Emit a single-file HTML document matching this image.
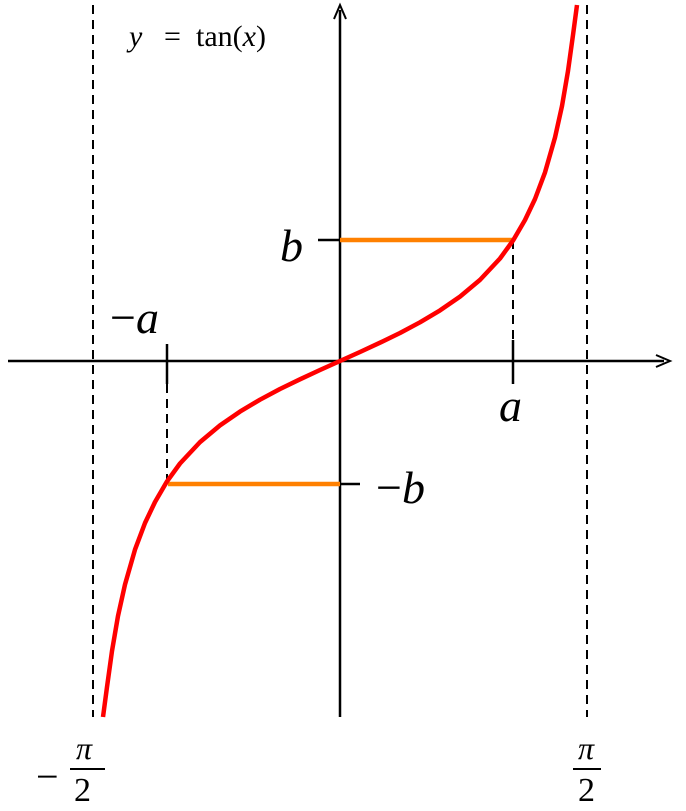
<!DOCTYPE html>
<html><head><style>body{margin:0;background:#fff}svg{display:block}</style></head><body>
<svg width="686" height="811" xmlns="http://www.w3.org/2000/svg" font-family="Liberation Serif, serif">
<g stroke="#000" stroke-width="2" stroke-dasharray="9,6" fill="none">
<line x1="93" y1="5" x2="93" y2="717"/>
<line x1="587" y1="5" x2="587" y2="717"/>
<line x1="513" y1="240" x2="513" y2="340"/>
<line x1="167" y1="384" x2="167" y2="484"/>
</g>
<g stroke="#000" stroke-width="2.5" fill="none">
<line x1="8" y1="361" x2="664" y2="361"/>
<line x1="340" y1="717" x2="340" y2="10"/>
<line x1="318" y1="240" x2="340" y2="240"/>
<line x1="340" y1="484" x2="360" y2="484"/>
<line x1="513" y1="340" x2="513" y2="384"/>
<line x1="167" y1="344" x2="167" y2="384"/>
</g>
<path d="M656,355 L670,361 L656,367" stroke="#000" stroke-width="2" fill="none"/>
<path d="M334,19 L340,5 L346,19" stroke="#000" stroke-width="2" fill="none"/>
<g stroke="#ff8000" stroke-width="4.5">
<line x1="340" y1="240" x2="512" y2="240"/>
<line x1="168" y1="484" x2="340" y2="484"/>
</g>
<polyline fill="none" stroke="#ff0000" stroke-width="4.5" stroke-linejoin="round"
points="103,717 107,687 112,651 118,616 125,584.5 135,549.6 145,523 155,502 167,481.4 180,463.5 200,442.1 220,425.4 240,411.6 260,399.7 280,389 300,379.3 320,370 340,361 360,352 380,342.7 400,333 420,322.3 440,310.4 460,296.6 480,279.9 500,258.5 513,240.6 525,220 535,199 545,172.4 555,137.5 562,106 568,71 573,35 577,5"/>
<text x="129" y="46" font-size="30" font-style="italic">y</text>
<text x="164" y="46" font-size="30">=</text>
<text x="196" y="46" font-size="30">tan(<tspan font-style="italic">x</tspan>)</text>
<text x="280" y="261" font-size="46" font-style="italic">b</text>
<text x="376" y="503" font-size="46">−<tspan font-style="italic">b</tspan></text>
<text x="110" y="333" font-size="46">−<tspan font-style="italic">a</tspan></text>
<text x="499" y="421" font-size="46" font-style="italic">a</text>
<text x="36" y="790" font-size="40">−</text>
<text x="76" y="759" font-size="32" font-style="italic">π</text>
<line x1="70" y1="769" x2="105" y2="769" stroke="#000" stroke-width="2"/>
<text x="74" y="801" font-size="34">2</text>
<text x="578" y="759" font-size="32" font-style="italic">π</text>
<line x1="573" y1="769" x2="601" y2="769" stroke="#000" stroke-width="2"/>
<text x="578" y="801" font-size="34">2</text>
</svg>
</body></html>
